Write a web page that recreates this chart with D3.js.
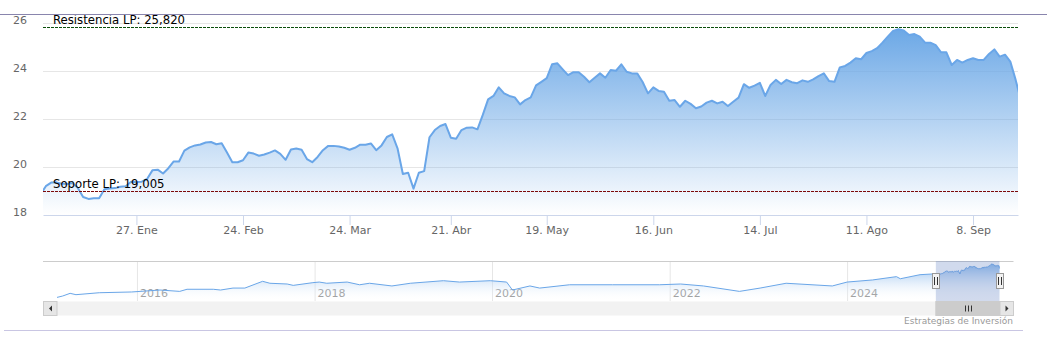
<!DOCTYPE html>
<html><head><meta charset="utf-8">
<script src="https://cdn.jsdelivr.net/npm/d3@7"></script>
<style>
html,body{margin:0;padding:0;background:#fff;}
svg{display:block;font-family:"DejaVu Sans",sans-serif;}
</style></head><body>
<svg id="chart" width="1047" height="351"></svg>
<script>
// ---- data ----
const startDate = "2024-12-31";
const holidays = ["2025-01-01","2025-04-18","2025-04-21","2025-05-01"];
const values = [
  18.85,19.2,19.35,19.36,19.3,19.29,19.33,19.13,18.75,18.67,
  18.7,18.7,19.07,19.1,19.12,19.18,19.2,19.39,19.38,19.39,
  19.5,19.86,19.89,19.73,19.95,20.23,20.23,20.68,20.82,20.9,
  20.94,21.02,21.04,20.95,20.99,20.6,20.2,20.2,20.28,20.6,
  20.56,20.47,20.52,20.6,20.69,20.55,20.3,20.73,20.77,20.72,
  20.33,20.2,20.42,20.7,20.88,20.88,20.85,20.8,20.72,20.8,
  20.93,20.93,20.98,20.7,20.9,21.25,21.36,20.78,19.71,19.76,
  19.1,19.76,19.83,21.24,21.54,21.71,21.79,21.22,21.18,21.54,
  21.64,21.65,21.57,22.17,22.82,22.96,23.32,23.07,22.96,22.9,
  22.61,22.79,22.9,23.4,23.55,23.7,24.28,24.32,24.07,23.83,
  23.95,23.95,23.76,23.53,23.72,23.9,23.72,24.04,24.01,24.28,
  23.97,23.9,23.9,23.54,23.07,23.32,23.17,23.14,22.76,22.79,
  22.51,22.76,22.63,22.45,22.52,22.68,22.76,22.65,22.72,22.54,
  22.72,22.89,23.45,23.3,23.39,23.51,22.96,23.42,23.63,23.46,
  23.63,23.53,23.49,23.61,23.55,23.65,23.79,23.9,23.58,23.55,
  24.15,24.21,24.35,24.53,24.49,24.75,24.83,24.95,25.18,25.43,
  25.67,25.74,25.69,25.5,25.54,25.43,25.18,25.18,25.08,24.78,
  24.78,24.25,24.46,24.35,24.46,24.53,24.46,24.46,24.71,24.9,
  24.6,24.68,24.39,23.63,22.76
];
const tickDates = ["2025-01-27","2025-02-24","2025-03-24","2025-04-21","2025-05-19","2025-06-16","2025-07-14","2025-08-11","2025-09-08"];
const tickLabels = ["27. Ene","24. Feb","24. Mar","21. Abr","19. May","16. Jun","14. Jul","11. Ago","8. Sep"];
const yTicks = [18,20,22,24,26];
const resistance = 25.820;
const support = 19.005;
const resistanceLabel = "Resistencia LP: 25,820";
const supportLabel = "Soporte LP: 19,005";
const navDates = ["2015-02-06","2015-03-01","2015-04-01","2015-04-25","2015-07-30","2015-12-10","2016-04-05","2016-06-25","2016-07-25","2016-11-10","2016-12-10","2017-01-30","2017-03-20","2017-06-01","2017-07-01","2017-09-10","2017-10-05","2017-12-25","2018-01-20","2018-02-20","2018-05-15","2018-07-05","2018-08-15","2018-11-15","2019-01-30","2019-06-15","2019-08-20","2019-12-25","2020-03-01","2020-03-25","2020-06-05","2020-07-15","2020-11-15","2021-05-10","2021-11-20","2022-02-15","2022-05-20","2022-10-15","2023-01-08","2023-04-25","2023-11-01","2024-01-01","2024-04-15","2024-07-22","2024-08-07","2024-10-27","2024-12-20"];
const navValues = [3.5,4.4,6.2,5.3,6.6,7.1,8.4,7.5,8.9,8.9,8.4,9.7,9.7,14.2,12.9,12.4,11.5,13.3,13.7,12.9,13.7,11.9,12.9,11.1,12.9,14.6,13.7,14.6,13.7,8.4,11.1,9.7,11.9,11.9,11.9,12.4,11.1,7.5,9.7,12.9,11.1,13.7,15.1,17.3,15.9,18.6,19.1];
const navYears = [2016,2018,2020,2022,2024];
const creditText = "Estrategias de Inversión";

// ---- setup ----
const parse = d3.utcParse("%Y-%m-%d");
const fmt = d3.utcFormat("%Y-%m-%d");
const holidaySet = new Set(holidays);
const dates = [];
for (let d = parse(startDate); dates.length < values.length; d = d3.utcDay.offset(d, 1)) {
  const wd = d.getUTCDay();
  if (wd !== 0 && wd !== 6 && !holidaySet.has(fmt(d))) dates.push(d);
}
const svg = d3.select("#chart");
const L = 43, R = 1018, T = 23, B = 215;

const x = d3.scaleLinear().domain([0.47, 183.44]).range([L, R]);
const y = d3.scaleLinear().domain([18, 26]).range([B, T]);

const defs = svg.append("defs");
defs.append("clipPath").attr("id","plotclip").append("rect")
  .attr("x", L).attr("y", 0).attr("width", R - L).attr("height", B);
const g1 = defs.append("linearGradient").attr("id","mainGrad")
  .attr("gradientUnits","userSpaceOnUse").attr("x1",0).attr("x2",0).attr("y1",y(d3.max(values))).attr("y2",B);
g1.append("stop").attr("offset",0).attr("stop-color","#6ca8e6").attr("stop-opacity",1);
g1.append("stop").attr("offset",1).attr("stop-color","#6ca8e6").attr("stop-opacity",0.0);

// gridlines
svg.append("g").attr("transform",`translate(${L},0)`)
  .call(d3.axisLeft(y).tickValues(yTicks.filter(v=>v>18)).tickSize(-(R-L)).tickFormat(""))
  .call(g=>g.select(".domain").remove())
  .call(g=>g.selectAll("line").attr("stroke","#e6e6e6"));

// area + line
const area = d3.area().x((d,i)=>x(i)).y0(B).y1(d=>y(d));
const line = d3.line().x((d,i)=>x(i)).y(d=>y(d));
const plot = svg.append("g").attr("clip-path","url(#plotclip)");
plot.append("path").datum(values).attr("d", area).attr("fill","url(#mainGrad)");
plot.append("path").datum(values).attr("d", line).attr("fill","none")
  .attr("stroke","#6aa6e8").attr("stroke-width",2).attr("stroke-linejoin","round");

// support / resistance
const levels = [
  {v: resistance, label: resistanceLabel, color: "#0b4f0b"},
  {v: support, label: supportLabel, color: "#7d0a0a"}
];
levels.forEach(l => {
  const yy = Math.round(y(l.v)) + 0.5;
  svg.append("line").attr("x1", L).attr("x2", R).attr("y1", yy).attr("y2", yy)
    .attr("stroke", l.color).attr("stroke-width", 1).attr("stroke-dasharray","3,1");
  svg.append("text").attr("x", L + 10).attr("y", yy - 4).text(l.label)
    .attr("font-size", "11.7px").attr("fill", "#000");
});

// x axis
const tickIdx = tickDates.map(t => { const td = parse(t); return dates.findIndex(d => d >= td); });
svg.append("g").attr("transform",`translate(0,${B})`)
  .call(d3.axisBottom(x).tickValues(tickIdx).tickFormat((d,i)=>tickLabels[i]).tickSize(10).tickSizeOuter(0).tickPadding(1))
  .call(g=>g.select(".domain").attr("stroke","#ccd6eb"))
  .call(g=>g.selectAll(".tick line").attr("stroke","#ccd6eb"))
  .call(g=>g.selectAll("text").attr("fill","#666").attr("font-size","11px").attr("font-family","DejaVu Sans"));

// y axis labels
svg.append("g").attr("transform",`translate(${L},0)`)
  .call(d3.axisLeft(y).tickValues(yTicks).tickSize(0).tickPadding(16))
  .call(g=>g.select(".domain").remove())
  .call(g=>g.selectAll("text").attr("dy","0").attr("fill","#666").attr("font-size","11px").attr("font-family","DejaVu Sans"));

// ---- navigator ----
const NT = 261, NB = 301, NL = 57, NR = 999.5;
const navAll = navDates.map((d,i)=>({d: parse(d), v: navValues[i]}))
  .concat(dates.map((d,i)=>({d, v: values[i]})));
const nx = d3.scaleUtc().domain([parse(navDates[0]), dates[dates.length-1]]).range([NL, NR]);
const ny = d3.scaleLinear().domain([1.1, 27.7]).range([NB, NT]);
const g2 = defs.append("linearGradient").attr("id","navGrad")
  .attr("gradientUnits","userSpaceOnUse").attr("x1",0).attr("x2",0).attr("y1",NT).attr("y2",NB);
g2.append("stop").attr("offset",0).attr("stop-color","#6aa6e8").attr("stop-opacity",0.9);
g2.append("stop").attr("offset",1).attr("stop-color","#ffffff").attr("stop-opacity",0);

svg.append("g").attr("transform",`translate(0,${NT})`)
  .call(d3.axisBottom(nx).tickValues(navYears.map(yv=>new Date(Date.UTC(yv,0,1)))).tickSize(NB-NT).tickFormat(""))
  .call(g=>g.select(".domain").remove())
  .call(g=>g.selectAll("line").attr("stroke","#e6e6e6"));
svg.append("g").selectAll("text").data(navYears).join("text")
  .attr("x", d=>nx(new Date(Date.UTC(d,0,1)))+3).attr("y", 297)
  .attr("fill","#999").attr("font-size","11px").text(d=>d);

svg.append("path").datum(navAll)
  .attr("d", d3.area().x(d=>nx(d.d)).y0(NB).y1(d=>ny(d.v)))
  .attr("fill","url(#navGrad)");
svg.append("path").datum(navAll)
  .attr("d", d3.line().x(d=>nx(d.d)).y(d=>ny(d.v)))
  .attr("fill","none").attr("stroke","#6aa6e8").attr("stroke-width",1);

svg.append("line").attr("x1",L).attr("x2",1013.5).attr("y1",NT+0.5).attr("y2",NT+0.5).attr("stroke","#cccccc");

const m0 = nx(dates[0]), m1 = nx(dates[dates.length-1]);
svg.append("rect").attr("x",m0).attr("y",NT).attr("width",m1-m0).attr("height",NB-NT)
  .attr("fill","rgba(102,133,194,0.3)");

// scrollbar
const ST = 301.5, SH = 14;
svg.append("rect").attr("x",L).attr("y",ST).attr("width",1013.5-L).attr("height",SH).attr("fill","#f2f2f2");
svg.append("rect").attr("x",m0).attr("y",ST).attr("width",m1-m0).attr("height",SH).attr("fill","#cccccc").attr("stroke","#cccccc");
const gc = (m0+m1)/2;
[-3,0,3].forEach(o=>svg.append("line").attr("x1",Math.round(gc+o)+0.5).attr("x2",Math.round(gc+o)+0.5)
  .attr("y1",ST+4).attr("y2",ST+SH-4).attr("stroke","#333").attr("stroke-width",1));
[[L, -1],[NR, 1]].forEach(([bx, dir])=>{
  svg.append("rect").attr("x",bx+0.5).attr("y",ST).attr("width",13.5).attr("height",SH)
    .attr("fill","#e6e6e6").attr("stroke","#cccccc");
  const cx = bx+7.5, cy = ST+SH/2;
  svg.append("path").attr("d", `M${cx-1.5*dir},${cy-3} L${cx+1.5*dir},${cy} L${cx-1.5*dir},${cy+3} Z`)
    .attr("fill","#333");
});

// handles
[m0, m1].forEach(hx=>{
  const rx = Math.round(hx) - 3.5;
  svg.append("rect").attr("x",rx).attr("y",273.5).attr("width",7).attr("height",15)
    .attr("fill","#f2f2f2").attr("stroke","#999");
  [-1.5,1.5].forEach(o=>svg.append("line").attr("x1",Math.round(hx)+o).attr("x2",Math.round(hx)+o)
    .attr("y1",277).attr("y2",285).attr("stroke","#333"));
});

// credits
svg.append("text").attr("x",1013).attr("y",324).attr("text-anchor","end")
  .attr("fill","#999").attr("font-size","9px").text(creditText);

// frame lines
svg.append("rect").attr("x",0).attr("y",0).attr("width",1047).attr("height",14).attr("fill","#fff");
svg.append("line").attr("x1",0).attr("x2",1047).attr("y1",14.5).attr("y2",14.5).attr("stroke","#8985ad").attr("stroke-width",1.2);
svg.append("line").attr("x1",4).attr("x2",1023).attr("y1",330.5).attr("y2",330.5).attr("stroke","#c9c6e3").attr("stroke-width",1);
</script>
</body></html>
